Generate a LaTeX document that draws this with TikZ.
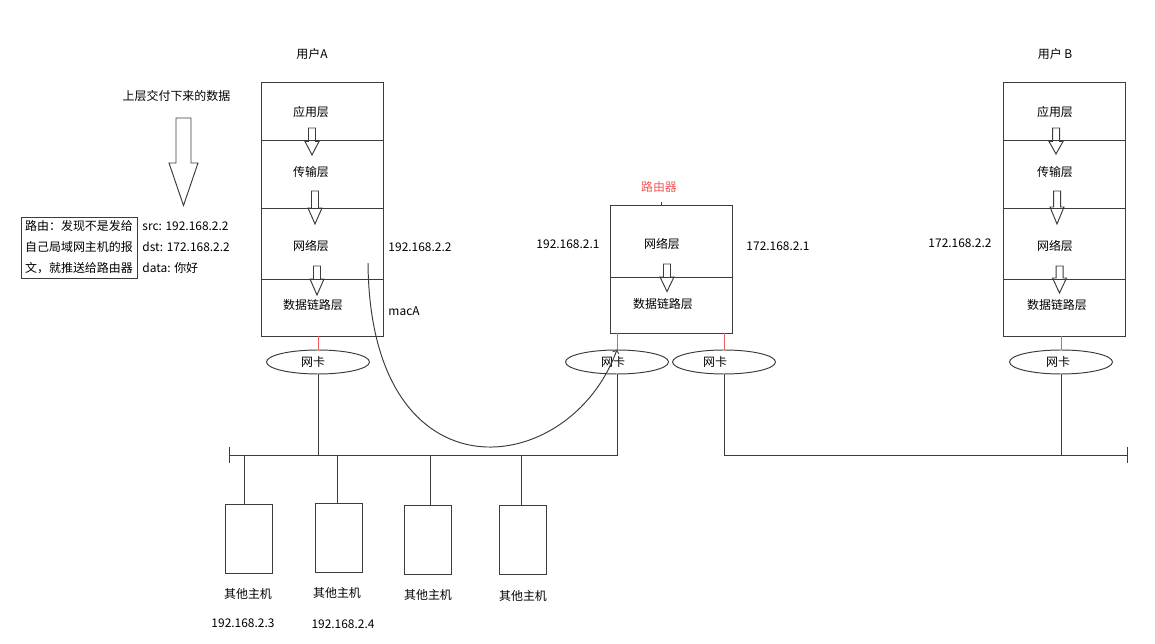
\documentclass[tikz,border=0pt]{standalone}
\usepackage{fontspec}
\setmainfont{Noto Sans CJK SC}
\usetikzlibrary{shapes.geometric}
\definecolor{linegray}{RGB}{60,60,60}
\definecolor{nicred}{RGB}{240,90,90}
% hollow down arrow: x, top, neck, tip, shaft half width, head half width
\newcommand{\hollowdown}[6]{%
	\draw[draw=linegray] ({#1-#5},#2) -- ({#1+#5},#2) -- ({#1+#5},#3) -- ({#1+#6},#3) -- (#1,#4) -- ({#1-#6},#3) -- ({#1-#5},#3) -- cycle;}
\begin{document}
\begin{tikzpicture}[x=0.02cm, y=-0.02cm, line width=0.55pt,
	every node/.style={font=\fontsize{6.8pt}{8pt}\selectfont},
	txt/.style={inner sep=0pt},
	layer/.style={shape=rectangle, draw=linegray, minimum width=2.44cm, inner sep=0pt},
	nic/.style={shape=ellipse, draw=linegray, minimum width=2.06cm, minimum height=0.48cm, inner sep=0pt},
	host/.style={shape=rectangle, draw=linegray, minimum width=0.94cm, minimum height=1.38cm, inner sep=0pt},
	wire/.style={draw=linegray},
	nicwire/.style={draw=nicred}]
	\useasboundingbox (0,0) rectangle (1155,644);
	% user A
	\node[txt](userA) at (312,54){用户A};
	\node[layer, minimum height=1.16cm](A1) at (322,111){};
	\node[layer, minimum height=1.36cm](A2) at (322,174){};
	\node[layer, minimum height=1.42cm](A3) at (322,243.5){};
	\node[layer, minimum height=1.14cm](A4) at (322,307.5){};
	\node[txt](A1text) at (311,112){应用层};
	\node[txt](A2text) at (311,172){传输层};
	\node[txt](A3text) at (311,246){网络层};
	\node[txt](A4text) at (313,305){数据链路层};
	\hollowdown{312}{128}{141.5}{155}{3.5}{7}
	\hollowdown{315}{191}{208}{224}{3.5}{7}
	\hollowdown{317}{266}{279}{295}{3.5}{7}
	\node[txt, anchor=west](ipA) at (388,247.5){192.168.2.2};
	\node[txt, anchor=west](macA) at (388,311){macA};
	% data handed down
	\node[txt](down) at (176.5,96){上层交付下来的数据};
	\hollowdown{183.5}{118}{163}{205.5}{7.5}{14.5}
	\node[shape=rectangle, draw=linegray, minimum width=2.32cm, minimum height=1.22cm, inner sep=0pt, align=center, font=\fontsize{6.8pt}{11.9pt}\selectfont](route) at (79,247.5){路由：发现不是发给\\自己局域网主机的报\\文，就推送给路由器};
	\node[anchor=west, align=left, inner sep=0pt, font=\fontsize{6.8pt}{11.9pt}\selectfont](pkt) at (142,247.5){src: 192.168.2.2\\dst: 172.168.2.2\\data: 你好};
	% router
	\node[txt, text=nicred](router) at (659,187){路由器};
	\node[layer, minimum height=1.44cm](R1) at (671,241){};
	\node[layer, minimum height=1.12cm](R2) at (671,305){};
	\draw[wire] (R1.north) ++(-9.5,0) -- ++(0,-3);
	\node[txt](R1text) at (662,244){网络层};
	\node[txt](R2text) at (663,304){数据链路层};
	\hollowdown{667}{264}{277}{291.5}{3.5}{7}
	\node[txt, anchor=west](ipR1) at (536,244){192.168.2.1};
	\node[txt, anchor=west](ipR2) at (746,246){172.168.2.1};
	% user B
	\node[txt](userB) at (1055,54){用户 B};
	\node[layer, minimum height=1.16cm](B1) at (1064.5,111){};
	\node[layer, minimum height=1.36cm](B2) at (1064.5,174){};
	\node[layer, minimum height=1.42cm](B3) at (1064.5,243.5){};
	\node[layer, minimum height=1.14cm](B4) at (1064.5,307.5){};
	\node[txt](B1text) at (1055,112){应用层};
	\node[txt](B2text) at (1055,172){传输层};
	\node[txt](B3text) at (1055,246){网络层};
	\node[txt](B4text) at (1057,305){数据链路层};
	\hollowdown{1056}{128}{141.5}{154}{3.5}{7}
	\hollowdown{1057}{191}{207}{224}{3.5}{7}
	\hollowdown{1059.5}{266}{278}{293}{3.5}{7}
	\node[txt, anchor=west](ipB) at (928,243){172.168.2.2};
	% network cards
	\node[nic](nicA) at (318,362){网卡\hspace*{0.2cm}};
	\node[nic](nicR1) at (617,362){网卡\hspace*{0.16cm}};
	\node[nic](nicR2) at (724,362){网卡\hspace*{0.36cm}};
	\node[nic](nicB) at (1061,362){网卡\hspace*{0.12cm}};
	\draw[nicwire] (nicA.north) -- (nicA.north |- A4.south);
	\draw[nicwire] (nicR1.north) -- (nicR1.north |- R2.south);
	\draw[nicwire] (nicR2.north) -- (nicR2.north |- R2.south);
	\draw[nicwire] (nicB.north) -- (nicB.north |- B4.south);
	% buses
	\coordinate (busL) at (229,455);
	\coordinate (busR) at (1127,455);
	\draw[wire] (busL) ++(0,-8) -- ++(0,16);
	\draw[wire] (busR) ++(0,-8) -- ++(0,16);
	\draw[wire] (busL) -- (nicR1.south |- busL) -- (nicR1.south);
	\draw[wire] (nicA.south) -- (nicA.south |- busL);
	\draw[wire] (nicR2.south) -- (nicR2.south |- busR) -- (busR);
	\draw[wire] (nicB.south) -- (nicB.south |- busR);
	% other hosts
	\node[host](h1) at (248.5,539){};
	\node[host](h2) at (338.5,538){};
	\node[host](h3) at (427.5,539.5){};
	\node[host](h4) at (523,540){};
	\foreach \h/\dx in {h1/-4.5,h2/-1.5,h3/2.5,h4/-1.5}
		\draw[wire] ([xshift=\dx*0.02cm]\h.north) -- ([xshift=\dx*0.02cm]\h.north |- busL);
	\node[txt](h1text) at (248,594){其他主机};
	\node[txt](h2text) at (337,593){其他主机};
	\node[txt](h3text) at (428,595){其他主机};
	\node[txt](h4text) at (523,595.5){其他主机};
	\node[txt](ipH1) at (243,623){192.168.2.3};
	\node[txt](ipH2) at (343,624){192.168.2.4};
	% path of the packet
	\coordinate (pktStart) at (368,263);
	\draw[wire, ->] (pktStart) .. controls (370,505) and (570,480) .. (nicR1.north);
\end{tikzpicture}
\end{document}
